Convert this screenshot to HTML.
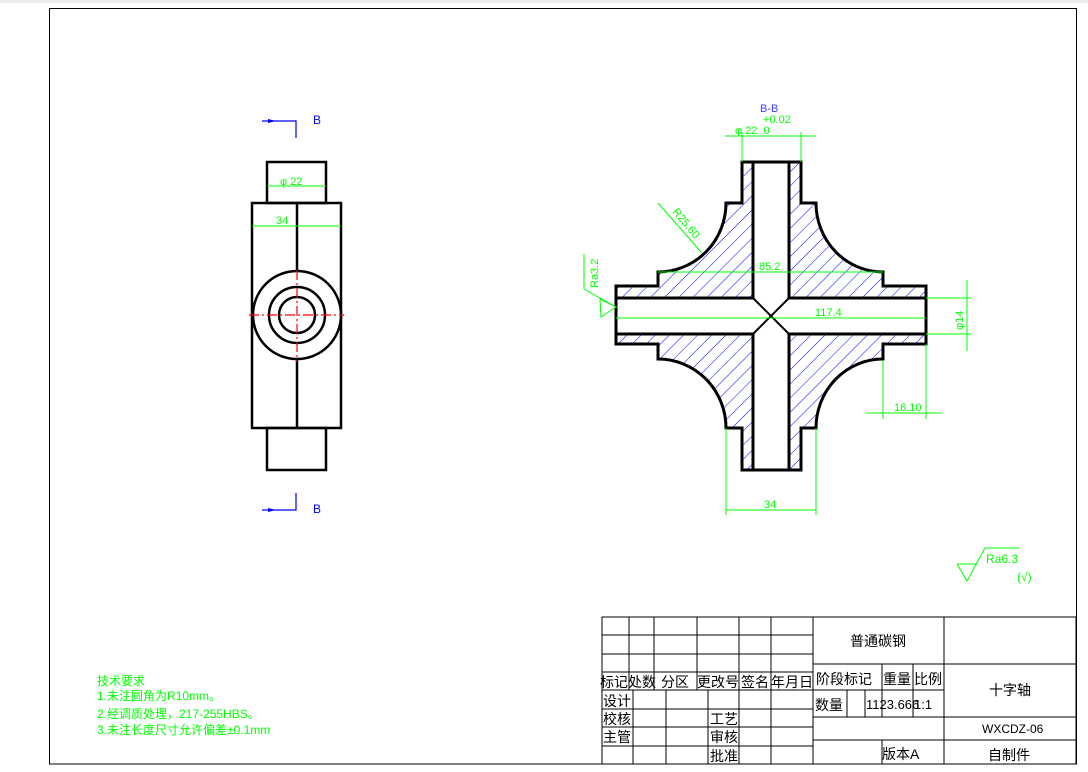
<!DOCTYPE html>
<html><head><meta charset="utf-8"><style>
html,body{margin:0;padding:0;background:#fff;}
svg{display:block;}
text{font-family:"Liberation Sans","Noto Sans CJK SC",sans-serif;}
.t{font-size:14px;fill:#000;}
.g{fill:#00ff00;font-size:11px;}
</style></head><body>
<svg width="1088" height="772" viewBox="0 0 1088 772" xmlns="http://www.w3.org/2000/svg">
<defs>
<pattern id="h" width="10" height="10" patternUnits="userSpaceOnUse" patternTransform="rotate(45)">
<line x1="0" y1="0" x2="0" y2="10" stroke="#0000ff" stroke-width="1"/>
</pattern>
</defs>
<rect x="0" y="0" width="1088" height="3" fill="#eee"/>
<rect x="49.5" y="8.5" width="1027" height="755.5" fill="none" stroke="#000" stroke-width="1"/>

<!-- Left view -->
<g stroke="#000" stroke-width="2.5" fill="none">
<rect x="267" y="162" width="59" height="41"/>
<rect x="252" y="203" width="89" height="225"/>
<rect x="267" y="428" width="59" height="42"/>
<line x1="297" y1="203" x2="297" y2="428"/>
<circle cx="297" cy="315" r="44" fill="#fff"/>
<circle cx="297" cy="315" r="28"/>
<circle cx="297" cy="315" r="18"/>
</g>
<g stroke="#ff0000" stroke-width="1.2" stroke-dasharray="10,3,2,3">
<line x1="297" y1="270" x2="297" y2="362"/>
<line x1="249" y1="315" x2="344" y2="315"/>
</g>
<g stroke="#00ff00" stroke-width="1">
<line x1="267" y1="186" x2="326" y2="186"/>
<line x1="252" y1="226" x2="341" y2="226"/>
</g>
<text x="280" y="185" class="g">φ 22</text>
<text x="276" y="224" class="g">34</text>
<g stroke="#0000ff" stroke-width="1.2" fill="none">
<polyline points="262,121 296,121 296,138"/>
<polyline points="262,510 296,510 296,493"/>
</g>
<polygon points="268,119 276,121 268,123" fill="#0000ff"/>
<polygon points="268,508 276,510 268,512" fill="#0000ff"/>
<text x="313" y="124" fill="#0000ff" font-size="12">B</text>
<text x="313" y="513" fill="#0000ff" font-size="12">B</text>

<!-- Section B-B -->
<path d="M742,162 H801 V203 H816 A67,69 0 0 0 883,272 V286 H926 V344 H883 V359 A67,69 0 0 0 816,428 H801 V470 H742 V428 H726 A68,69 0 0 0 658,359 V344 H616 V286 H658 V272 A68,69 0 0 0 726,203 H742 Z" fill="url(#h)" stroke="#000" stroke-width="3"/>
<rect x="753" y="162" width="36" height="308" fill="#fff"/>
<rect x="616" y="298" width="310" height="36" fill="#fff"/>
<g stroke="#000" stroke-width="3" fill="none">
<line x1="742" y1="162" x2="801" y2="162"/>
<line x1="742" y1="470" x2="801" y2="470"/>
<line x1="616" y1="286" x2="616" y2="344"/>
<line x1="926" y1="286" x2="926" y2="344"/>
<line x1="753" y1="162" x2="753" y2="298"/>
<line x1="789" y1="162" x2="789" y2="298"/>
<line x1="753" y1="334" x2="753" y2="470"/>
<line x1="789" y1="334" x2="789" y2="470"/>
<line x1="616" y1="298" x2="753" y2="298"/>
<line x1="789" y1="298" x2="926" y2="298"/>
<line x1="616" y1="334" x2="753" y2="334"/>
<line x1="789" y1="334" x2="926" y2="334"/>
<line x1="753" y1="298" x2="789" y2="334" stroke-width="2"/>
<line x1="789" y1="298" x2="753" y2="334" stroke-width="2"/>
</g>
<g stroke="#00ff00" stroke-width="1" fill="none">
<line x1="725" y1="136" x2="816" y2="136"/>
<line x1="742" y1="132" x2="742" y2="162"/>
<line x1="801" y1="132" x2="801" y2="162"/>
<line x1="658" y1="272" x2="883" y2="272"/>
<line x1="616" y1="318" x2="926" y2="318"/>
<line x1="967" y1="280" x2="967" y2="351"/>
<line x1="926" y1="298" x2="972" y2="298"/>
<line x1="926" y1="334" x2="972" y2="334"/>
<line x1="866" y1="413" x2="942" y2="413"/>
<line x1="883" y1="360" x2="883" y2="419"/>
<line x1="926" y1="344" x2="926" y2="419"/>
<line x1="726" y1="510" x2="816" y2="510"/>
<line x1="726" y1="428" x2="726" y2="515"/>
<line x1="816" y1="428" x2="816" y2="515"/>
<line x1="658" y1="203" x2="702" y2="253"/>
<polyline points="584,254 584,289 616,307"/>
<polygon points="600,299 616,307 601,317"/>
<polyline points="957,564 967,581 985,548 1020,548"/>
<line x1="957" y1="564" x2="977" y2="564"/>
</g>
<text x="760" y="112" fill="#4040ff" font-size="11">B-B</text>
<text x="763" y="123" class="g">+0.02</text>
<text x="735" y="134" class="g">φ 22&#160;&#160;0</text>
<text x="759" y="270" class="g">85.2</text>
<text x="815" y="316" class="g">117.4</text>
<text x="894" y="411" class="g">16.10</text>
<text x="764" y="508" class="g">34</text>
<text class="g" transform="translate(963,330) rotate(-90)">φ14</text>
<text class="g" transform="translate(672,212) rotate(50)">R25.60</text>
<text class="g" transform="translate(598,288) rotate(-90)">Ra3.2</text>
<text x="986" y="563" fill="#00ff00" font-size="12">Ra6.3</text>
<text x="1017" y="581" fill="#00ff00" font-size="12">(√)</text>

<!-- Tech requirements -->
<g fill="#00ff00" font-size="12">
<text x="97" y="685">技术要求</text>
<text x="97" y="700">1.未注圆角为R10mm。</text>
<text x="97" y="718">2.经调质处理，217-255HBS。</text>
<text x="97" y="734">3.未注长度尺寸允许偏差±0.1mm</text>
</g>

<!-- Title block -->
<g stroke="#000" stroke-width="1" fill="none">
<rect x="602" y="617" width="474" height="147"/>
<line x1="602" y1="635" x2="813" y2="635"/>
<line x1="602" y1="654" x2="813" y2="654"/>
<line x1="602" y1="672" x2="813" y2="672"/>
<line x1="602" y1="690" x2="813" y2="690"/>
<line x1="602" y1="709" x2="813" y2="709"/>
<line x1="602" y1="727" x2="813" y2="727"/>
<line x1="602" y1="746" x2="813" y2="746"/>
<line x1="629" y1="617" x2="629" y2="690"/>
<line x1="654" y1="617" x2="654" y2="690"/>
<line x1="697" y1="617" x2="697" y2="690"/>
<line x1="739" y1="617" x2="739" y2="764"/>
<line x1="771" y1="617" x2="771" y2="764"/>
<line x1="813" y1="617" x2="813" y2="764"/>
<line x1="633" y1="690" x2="633" y2="764"/>
<line x1="666" y1="690" x2="666" y2="764"/>
<line x1="708" y1="690" x2="708" y2="764"/>
<line x1="813" y1="664" x2="1076" y2="664"/>
<line x1="813" y1="690" x2="944" y2="690"/>
<line x1="813" y1="717" x2="1076" y2="717"/>
<line x1="813" y1="740" x2="1076" y2="740"/>
<line x1="944" y1="617" x2="944" y2="764"/>
<line x1="882" y1="664" x2="882" y2="717"/>
<line x1="913" y1="664" x2="913" y2="717"/>
<line x1="847" y1="690" x2="847" y2="717"/>
<line x1="865" y1="690" x2="865" y2="717"/>
<line x1="882" y1="740" x2="882" y2="764"/>
</g>
<g class="t" font-size="14">
<text x="600" y="687">标记</text><text x="628" y="687">处数</text><text x="661" y="687">分区</text>
<text x="697" y="687">更改号</text><text x="741" y="687">签名</text><text x="771" y="687">年月日</text>
<text x="603" y="706">设计</text><text x="603" y="724">校核</text><text x="603" y="742">主管</text>
<text x="710" y="724">工艺</text><text x="710" y="742">审核</text><text x="710" y="761">批准</text>
<text x="850" y="646">普通碳钢</text>
<text x="816" y="684">阶段标记</text><text x="883" y="684">重量</text><text x="914" y="684">比例</text>
<text x="815" y="710">数量</text>
<text x="866" y="709" font-size="13">1123.666</text><text x="914" y="709" font-size="13">1:1</text>
<text x="989" y="695">十字轴</text>
<text x="982" y="733" font-size="12">WXCDZ-06</text>
<text x="882" y="759">版本A</text>
<text x="988" y="760">自制件</text>
</g>
</svg>
</body></html>
